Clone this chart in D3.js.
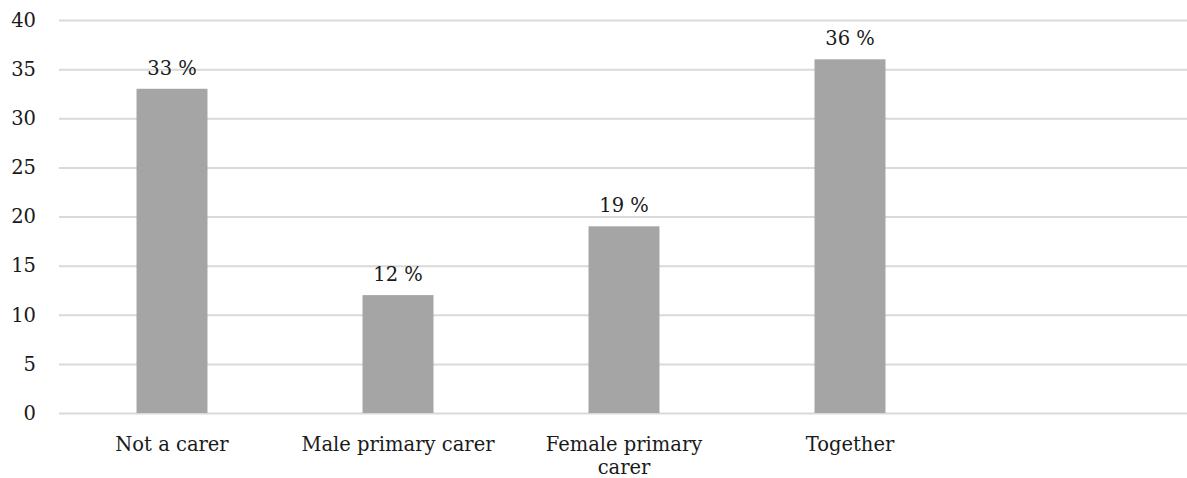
<!DOCTYPE html>
<html>
<head>
<meta charset="utf-8">
<script src="https://cdn.jsdelivr.net/npm/d3@7"></script>
<style>
  html, body { margin: 0; padding: 0; background: #fff; }
  svg { display: block; }
  svg text { font-family: "DejaVu Serif", "Liberation Serif", serif; }
</style>
</head>
<body>
<svg id="chart" width="1187" height="478"></svg>
<script>
// Share of respondents by caring role (%)
const categories = ["Not a carer", "Male primary carer", "Female primary carer", "Together"];
const values = [33, 12, 19, 36];
const yTicks = [0, 5, 10, 15, 20, 25, 30, 35, 40];

const width = 1187, height = 478;
const margin = { top: 20, right: 0, bottom: 65, left: 59 };
const plotBottom = height - margin.bottom; // baseline y
const step = 226;
const fontFamily = '"DejaVu Serif", "Liberation Serif", serif';
const fontSize = 19.5;

const svg = d3.select("#chart");

const x = d3.scaleBand()
  .domain(categories)
  .range([margin.left, margin.left + step * categories.length])
  .paddingInner(0.686)
  .paddingOuter(0.343);

const y = d3.scaleLinear()
  .domain([0, 40])
  .range([plotBottom, margin.top]);

// Horizontal gridlines with tick labels
const yAxis = d3.axisLeft(y)
  .tickValues(yTicks)
  .tickSize(-(width - margin.left))
  .tickPadding(23)
  .tickFormat(d3.format("d"));

const gy = svg.append("g")
  .attr("transform", `translate(${margin.left},0)`)
  .call(yAxis)
  .attr("font-family", fontFamily)
  .attr("font-size", fontSize);
gy.select(".domain").remove();
gy.selectAll(".tick line").attr("stroke", "#d9d9d9").attr("stroke-width", 2);
gy.selectAll(".tick text").attr("fill", "#1a1a1a");

// Bars
svg.append("g")
  .selectAll("rect")
  .data(categories)
  .join("rect")
  .attr("x", d => x(d))
  .attr("width", x.bandwidth())
  .attr("y", (d, i) => y(values[i]))
  .attr("height", (d, i) => y(0) - y(values[i]))
  .attr("fill", "#a5a5a5");

// Value labels above bars
svg.append("g")
  .attr("font-family", fontFamily)
  .attr("font-size", fontSize)
  .selectAll("text")
  .data(categories)
  .join("text")
  .attr("x", d => x(d) + x.bandwidth() / 2)
  .attr("y", (d, i) => y(values[i]) - 14)
  .attr("text-anchor", "middle")
  .attr("fill", "#1a1a1a")
  .text((d, i) => `${values[i]} %`);

// Category labels, wrapped to fit the band
const xAxis = d3.axisBottom(x).tickSize(0).tickPadding(0);
const gx = svg.append("g")
  .attr("transform", `translate(0,${plotBottom})`)
  .call(xAxis)
  .attr("font-family", fontFamily)
  .attr("font-size", fontSize);
gx.select(".domain").remove();
gx.selectAll(".tick text")
  .attr("fill", "#1a1a1a")
  .attr("y", 38)
  .attr("dy", null)
  .call(wrap, 212);

function wrap(texts, maxWidth) {
  texts.each(function () {
    const text = d3.select(this);
    const words = text.text().split(/\s+/);
    const yPos = +text.attr("y");
    text.text(null);
    let line = [];
    let lineNo = 0;
    let tspan = text.append("tspan").attr("x", 0).attr("y", yPos);
    for (const w of words) {
      line.push(w);
      tspan.text(line.join(" "));
      if (tspan.node().getComputedTextLength() > maxWidth && line.length > 1) {
        line.pop();
        tspan.text(line.join(" "));
        line = [w];
        lineNo++;
        tspan = text.append("tspan").attr("x", 0).attr("y", yPos + lineNo * 23).text(w);
      }
    }
  });
}
</script>
</body>
</html>
